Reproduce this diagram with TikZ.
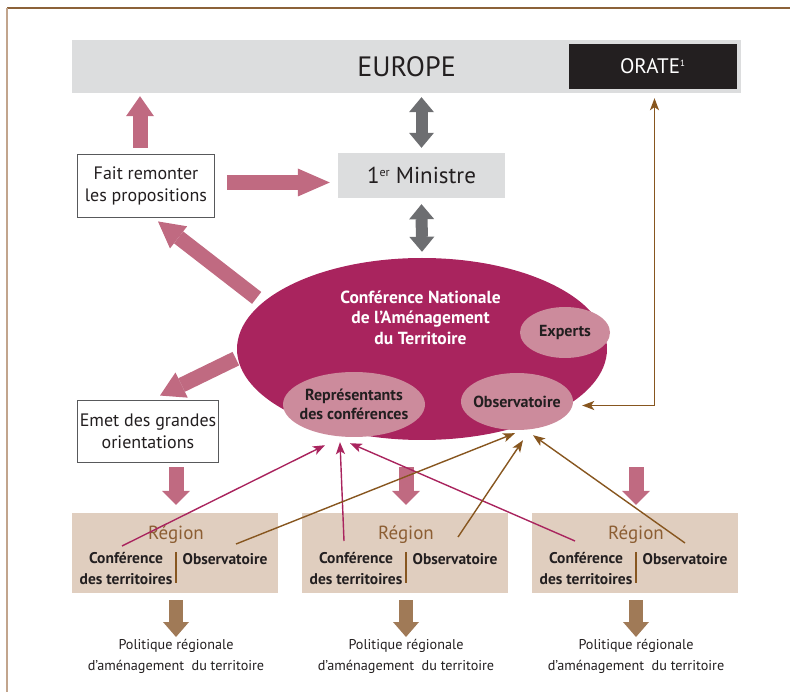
\documentclass[tikz,border=0pt]{standalone}
\usepackage{fontspec}
\setmainfont{PT Sans}
\usetikzlibrary{shapes.geometric,arrows.meta}

\definecolor{cnred}{HTML}{A9245E}
\definecolor{cnpink}{HTML}{CC8B9C}
\definecolor{arrpink}{HTML}{C06A81}
\definecolor{bargray}{HTML}{DCDDDE}
\definecolor{arrgray}{HTML}{6D6E71}
\definecolor{txtdark}{HTML}{231F20}
\definecolor{lnbrown}{HTML}{87561F}
\definecolor{regtan}{HTML}{E0CEBF}
\definecolor{regbrown}{HTML}{8C5E33}
\definecolor{arrbrown}{HTML}{A07A57}
\definecolor{boxline}{HTML}{58595B}
\definecolor{frametop}{HTML}{8C6239}
\definecolor{frameleft}{HTML}{C2A58D}

\tikzset{
  fatpink/.style={draw=arrpink,line width=15pt,-{Triangle[length=#1,width=28pt,line width=0pt]}},
  fatpink/.default=14pt,
  fatbrown/.style={draw=arrbrown,line width=14pt,-{Triangle[length=15pt,width=26pt,line width=0pt]}},
  grayarr/.style={draw=arrgray,line width=12pt,{Triangle[length=15pt,width=25pt,line width=0pt]}-{Triangle[length=15pt,width=25pt,line width=0pt]}},
  thinred/.style={draw=cnred,line width=1.4pt,-{Stealth[length=12pt,width=9pt,inset=3pt]}},
  thinbrown/.style={draw=lnbrown,line width=1.4pt,-{Stealth[length=12pt,width=9pt,inset=3pt]}},
  txtbox/.style={draw=boxline,line width=0.9pt,fill=white,text=txtdark,align=center,inner sep=0pt,
    font=\fontsize{18}{22}\selectfont},
  minibulle/.style={ellipse,fill=cnpink,text=txtdark,align=center,inner sep=-8pt,
    font=\bfseries\fontsize{16}{19}\selectfont},
  regbox/.style={fill=regtan,minimum width=206pt,minimum height=80pt,inner sep=0pt},
  regbold/.style={text=txtdark,align=center,inner sep=0pt,font=\bfseries\fontsize{15.5}{21}\selectfont}
}

\begin{document}
\begin{tikzpicture}[x=1pt,y=-1pt]
\useasboundingbox (0,0) rectangle (790,692);
\draw[frametop,line width=1.5pt] (7,8) -- (790,8);
\draw[frameleft,line width=1.5pt] (7,8) -- (7,692);

\node[fill=bargray,minimum width=669pt,minimum height=53pt,inner sep=0pt,text=txtdark,
  font=\fontsize{28}{30}\selectfont] (europe) at (406.5,66.5) {EUROPE};
\node[fill=txtdark,minimum width=168pt,minimum height=45pt,inner sep=0pt,text=white,
  font=\fontsize{21}{24}\selectfont] (orate) at (652.5,66.5) {ORATE\raisebox{7pt}{\fontsize{9}{9}\selectfont 1}};
\node[fill=bargray,minimum width=167pt,minimum height=45pt,inner sep=0pt,text=txtdark,
  font=\fontsize{23}{26}\selectfont] (ministre) at (421.5,175.5) {1\raisebox{7pt}{\fontsize{12}{12}\selectfont er} Ministre};
\node[txtbox,minimum width=137pt,minimum height=63pt] (fait) at (146,185.5) {Fait remonter\\les propositions};
\node[txtbox,minimum width=141pt,minimum height=62pt] (emet) at (148,431) {Emet des grandes\\orientations};

\node[ellipse,fill=cnred,minimum width=370pt,minimum height=182pt,inner sep=0pt] (cnat) at (422,349) {};
\node[text=white,align=center,font=\bfseries\fontsize{17.5}{20.5}\selectfont] (titre) at (420.5,317.5)
  {Conférence Nationale\\de l’Aménagement\\du Territoire};
\node[minibulle,minimum width=90pt,minimum height=51pt] (experts) at (565,332.5) {Experts};
\node[minibulle,minimum width=142pt,minimum height=65pt] (rep) at (354,404.5) {Représentants\\des conférences};
\node[minibulle,minimum width=112pt,minimum height=57pt] (obs) at (517,401.5) {Observatoire};

\draw[fatpink=20pt] ([xshift=-6pt,yshift=6pt]fait.north) -- ([xshift=-6pt,yshift=-3pt]fait.north |- europe.south);
\draw[grayarr] ([yshift=-4pt]ministre.north |- europe.south) -- ([yshift=5pt]ministre.north);
\draw[grayarr] ([yshift=-6pt]ministre.south) -- ([yshift=6pt]cnat.north);
\draw[fatpink=32pt] ([xshift=12pt,yshift=3pt]fait.east) -- ([xshift=-8pt,yshift=3pt]ministre.west |- fait.east);
\draw[fatpink=26pt] ([xshift=-8pt,yshift=3pt]cnat.163) -- ([xshift=12pt,yshift=-4pt]fait.south);
\draw[fatpink=24pt] ([xshift=-2pt]cnat.183) -- ([xshift=12pt,yshift=4pt]emet.north);
\draw[thinbrown,{Stealth[length=12pt,width=9pt,inset=3pt]}-{Stealth[length=12pt,width=9pt,inset=3pt]}]
  ([xshift=9pt,yshift=-4pt]obs.east) -| ([xshift=2pt,yshift=-9pt]orate.south);

\foreach \i/\x in {1/175,2/405,3/635}{
  \node[regbox] (reg\i) at (\x,553) {};
  \node[text=regbrown,inner sep=0pt,font=\fontsize{19}{22}\selectfont] (regt\i) at (\x+1,535) {Région};
  \node[regbold] (conf\i) at (\x-49,569) {Conférence\\des territoires};
  \node[regbold] (obst\i) at (\x+50,559) {Observatoire};
  \draw[lnbrown,line width=1.2pt] (\x+1,552) -- (\x+1,583);
  \node[text=txtdark,align=center,anchor=north,inner sep=1pt,font=\fontsize{14.2}{21}\selectfont]
    (pol\i) at (\x+1,638) {Politique régionale\\d’aménagement~ du territoire};
  \draw[fatpink] ([xshift=1pt,yshift=-5pt]emet.south -| reg\i.north) -- ([xshift=1pt,yshift=8pt]reg\i.north);
  \draw[fatbrown] ([xshift=1pt,yshift=-7pt]reg\i.south) -- ([yshift=1pt]pol\i.north);
}

\coordinate (cf1) at (122,546);
\coordinate (cf2) at (344,541);
\coordinate (cf3) at (575,541);
\coordinate (ob1) at (236,544);
\coordinate (ob2) at (458,537);
\coordinate (ob3) at (685,543);
\draw[thinred] (cf1) -- ([xshift=-29pt,yshift=-8pt]rep.south);
\draw[thinred] (cf2) -- ([xshift=-14pt,yshift=-5pt]rep.south);
\draw[thinred] (cf3) -- ([xshift=-4pt,yshift=-6pt]rep.south);
\draw[thinbrown] (ob1) -- ([xshift=-2pt,yshift=-3pt]obs.south);
\draw[thinbrown] (ob2) -- ([xshift=6pt,yshift=-10pt]obs.south);
\draw[thinbrown] (ob3) -- ([xshift=16pt,yshift=-5pt]obs.south);
\end{tikzpicture}
\end{document}
